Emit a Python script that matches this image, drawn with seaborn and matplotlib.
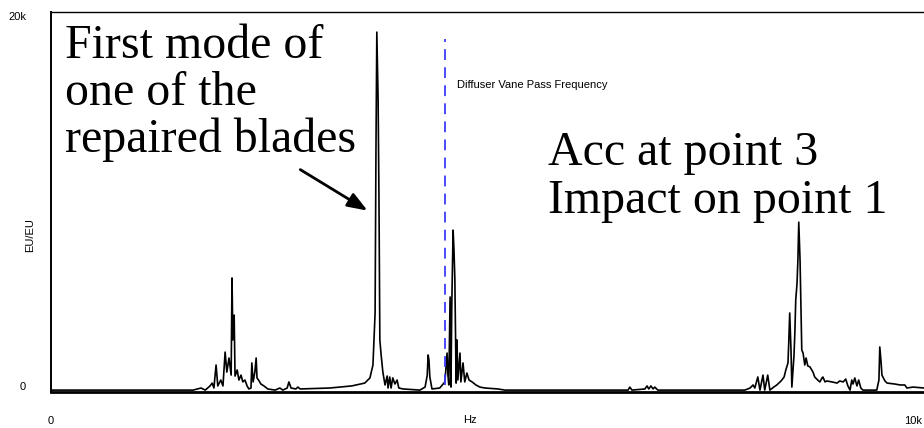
import matplotlib
matplotlib.use("Agg")
import seaborn as sns
from matplotlib import pyplot as plt

# spectrum (Hz, EU/EU)
freq_hz = [
    0, 1650, 1740, 1790, 1845, 1870, 1890, 1915, 1935, 1970, 1995, 2020, 2040, 2065, 2090,
    2100, 2110, 2125, 2135, 2160, 2180, 2205, 2225, 2250, 2275, 2295, 2320, 2330, 2345, 2365,
    2380, 2390, 2415, 2435, 2470, 2515, 2600, 2655, 2690, 2740, 2760, 2785, 2840, 2865, 2890,
    3235, 3490, 3640, 3700, 3735, 3760, 3770, 3780, 3795, 3805, 3815, 3830, 3850, 3875, 3900,
    3910, 3930, 3945, 3965, 3990, 4015, 4035, 4085, 4280, 4340, 4365, 4375, 4385, 4395, 4420,
    4510, 4570, 4595, 4605, 4615, 4630, 4640, 4650, 4665, 4675, 4685, 4700, 4710, 4720, 4745,
    4755, 4780, 4800, 4825, 4850, 4885, 4930, 4975, 5035, 5185, 5265, 6695, 6715, 6740, 6890,
    6915, 6935, 6960, 6985, 7005, 7040, 8050, 8110, 8145, 8165, 8200, 8225, 8260, 8280, 8315,
    8340, 8385, 8420, 8470, 8505, 8525, 8550, 8560, 8570, 8585, 8595, 8620, 8630, 8640, 8655,
    8665, 8675, 8690, 8700, 8710, 8725, 8745, 8760, 8780, 8805, 8840, 8860, 8895, 8920, 8945,
    8955, 8980, 9000, 9060, 9120, 9150, 9190, 9220, 9245, 9270, 9290, 9305, 9325, 9350, 9370,
    9395, 9420, 9580, 9605, 9615, 9630, 9640, 9675, 9700, 9790, 9850, 9905, 9930, 10000, 10130,
]
amplitude = [
    100, 100, 210, 100, 320, 470, 210, 1420, 320, 630, 320, 2100, 1050, 1790, 890,
    6000, 2740, 4050, 840, 1160, 630, 890, 530, 630, 320, 160, 210, 1530, 530, 1050,
    1790, 740, 580, 420, 320, 160, 100, 210, 100, 210, 530, 210, 160, 260, 160,
    210, 320, 470, 740, 1420, 4160, 12730, 18940, 15360, 10100, 2740, 1950, 1050, 370, 840,
    210, 790, 210, 740, 420, 630, 210, 160, 100, 260, 890, 1950, 1680, 790, 160,
    210, 530, 2050, 890, 370, 5000, 260, 4680, 8520, 7470, 6000, 470, 2740, 630, 2050,
    530, 1530, 530, 1000, 630, 530, 370, 260, 210, 160, 100, 100, 260, 100, 160,
    320, 160, 320, 160, 260, 100, 100, 210, 370, 210, 790, 100, 890, 100, 890,
    100, 260, 370, 580, 790, 1160, 1530, 2740, 4160, 2210, 260, 1950, 3160, 4840, 5730,
    6940, 8940, 6940, 4470, 2210, 2050, 1420, 1790, 1370, 1320, 1050, 790, 630, 530, 740,
    790, 530, 580, 530, 470, 580, 530, 680, 320, 100, 630, 420, 740, 320, 630,
    210, 100, 100, 630, 2370, 1580, 890, 580, 470, 420, 370, 370, 210, 260, 210,
]

vane_pass_hz = 4570
y_ticks = [0, 20000]
y_tick_labels = ["0", "20k"]
x_ticks = [0, 10000]
x_tick_labels = ["0", "10k"]

sns.set_style("white")
plt.rcParams["font.family"] = ["Liberation Sans", "DejaVu Sans"]
plt.rcParams["text.color"] = "black"
plt.rcParams["axes.labelcolor"] = "black"
plt.rcParams["xtick.color"] = "black"
plt.rcParams["ytick.color"] = "black"

fig = plt.figure(figsize=(9.24, 4.28), dpi=100)
ax = fig.add_axes([51 / 924, 36 / 428, 873 / 924, 380 / 428])

sns.lineplot(x=freq_hz, y=amplitude, ax=ax, color="black", linewidth=1.2,
             sort=False, estimator=None)

ax.set_xlim(0, 10128)
ax.set_ylim(0, 20000)

# frame: left, top, bottom only
ax.spines["right"].set_visible(False)
ax.spines["left"].set_linewidth(1.4)
ax.spines["top"].set_linewidth(1.0)
ax.spines["bottom"].set_linewidth(2.0)
for s in ["left", "top", "bottom"]:
    ax.spines[s].set_color("black")

ax.set_yticks(y_ticks)
ax.set_yticklabels(y_tick_labels, fontsize=8)
ax.get_yticklabels()[0].set_va("bottom")
ax.get_yticklabels()[1].set_va("top")
ax.set_xticks(x_ticks)
ax.set_xticklabels(x_tick_labels, fontsize=8)
ax.tick_params(axis="y", length=0, pad=18)
ax.tick_params(axis="x", length=0, pad=17)

ax.set_xlabel("Hz", fontsize=8, va="center")
ax.xaxis.set_label_coords(0.48, -0.074)
ax.set_ylabel("EU/EU", fontsize=8)
ax.yaxis.set_label_coords(-0.018, 0.413)

# diffuser vane pass marker
ax.axvline(vane_pass_hz, ymin=0.018, ymax=0.93, color="#3b3bff", linewidth=1.3,
           linestyle=(0, (6, 4)))
ax.text(4710, 16150, "Diffuser Vane Pass Frequency", fontsize=8, va="center")

serif = ["Liberation Serif", "DejaVu Serif"]
fs = 34.5
for txt, yb in [("First mode of", 58), ("one of the", 105), ("repaired blades", 152)]:
    fig.text(65 / 924, 1 - yb / 428, txt, fontsize=fs, family=serif, va="baseline")
for txt, yb in [("Acc at point 3", 165), ("Impact on point 1", 213)]:
    fig.text(548 / 924, 1 - yb / 428, txt, fontsize=fs, family=serif, va="baseline")

ax.annotate("", xy=(3700, 9470), xytext=(2865, 11780),
            arrowprops=dict(arrowstyle="-|>,head_length=1.2,head_width=0.45",
                            color="black", lw=2))

fig.savefig("out.png", dpi=100)
plt.close(fig)
